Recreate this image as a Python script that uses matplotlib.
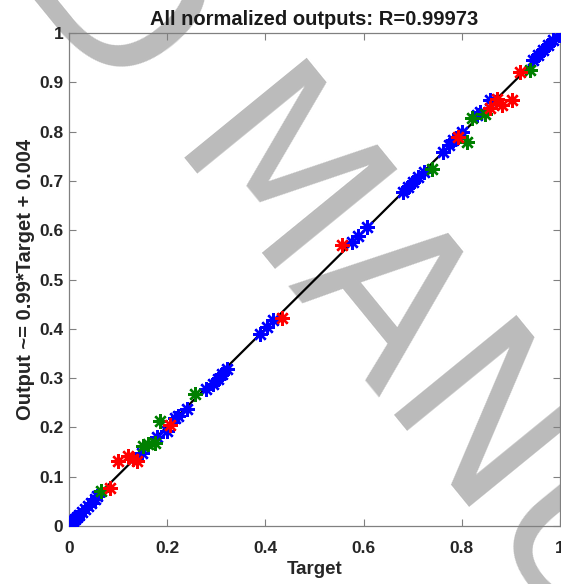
import matplotlib
matplotlib.use("Agg")
import matplotlib.pyplot as plt
import numpy as np

# ---- data ----
blue_t = [0.0, 0.004, 0.008, 0.012, 0.016, 0.02, 0.026, 0.032, 0.038, 0.045, 0.052, 0.058,
          0.148, 0.179, 0.199, 0.216, 0.223, 0.240, 0.280, 0.294, 0.303, 0.312, 0.322,
          0.389, 0.403, 0.416, 0.576, 0.589, 0.606,
          0.681, 0.691, 0.701, 0.711, 0.722, 0.762, 0.773, 0.783, 0.800, 0.830, 0.837, 0.857,
          0.946, 0.956, 0.966, 0.976, 0.986, 0.997]
blue_o = [0.002, 0.006, 0.010, 0.015, 0.019, 0.023, 0.029, 0.035, 0.041, 0.047, 0.054, 0.060,
          0.149, 0.180, 0.193, 0.220, 0.224, 0.237, 0.278, 0.288, 0.299, 0.309, 0.318,
          0.390, 0.403, 0.417, 0.576, 0.589, 0.606,
          0.677, 0.688, 0.698, 0.708, 0.718, 0.759, 0.772, 0.782, 0.799, 0.833, 0.840, 0.864,
          0.945, 0.955, 0.965, 0.976, 0.986, 0.996]
green_t = [0.065, 0.151, 0.161, 0.175, 0.185, 0.257, 0.740, 0.810, 0.820, 0.847, 0.939]
green_o = [0.070, 0.163, 0.166, 0.169, 0.213, 0.268, 0.725, 0.779, 0.827, 0.835, 0.925]
red_t = [0.083, 0.100, 0.121, 0.131, 0.138, 0.206, 0.433, 0.555, 0.793, 0.857, 0.871, 0.881, 0.902, 0.919]
red_o = [0.077, 0.132, 0.142, 0.136, 0.132, 0.205, 0.422, 0.569, 0.789, 0.847, 0.867, 0.854, 0.864, 0.921]
fit_slope = 0.99
fit_offset = 0.004
R_value = "0.99973"
xticks = [0, 0.2, 0.4, 0.6, 0.8, 1]
yticks = [0, 0.1, 0.2, 0.3, 0.4, 0.5, 0.6, 0.7, 0.8, 0.9, 1]

plt.rcParams['font.family'] = ['Liberation Sans', 'DejaVu Sans']

fig = plt.figure(figsize=(5.61, 5.84), dpi=100, facecolor='white')
ax = fig.add_axes([69/561, 1-526/584, 491/561, 493/584])
ax.set_facecolor('none')

# watermark behind axes
wm_kw = dict(color='#BBBBBB', fontsize=155, family='DejaVu Sans', rotation=-50.8,
             rotation_mode='anchor', va='baseline', zorder=-1)
fig.text(162/561, 1-157/584, "MANUSCRIPT", ha='left', **wm_kw)
fig.text(162/561, 1-157/584, "ACCEPTED ", ha='right', **wm_kw)

tline = np.array([0.0, 1.0])
ax.plot(tline, fit_slope*tline + fit_offset, color='black', lw=1.6, zorder=2)

mk = dict(marker=(8, 2, 0), markersize=10.5, markeredgewidth=1.7, linestyle='none', zorder=3)
ax.plot(blue_t, blue_o, color='#0000FF', **mk)
ax.plot(green_t, green_o, color='#008000', **mk)
ax.plot(red_t, red_o, color='#FF0000', **mk)

ax.set_xlim(0, 1)
ax.set_ylim(0, 1)
ax.set_xticks(xticks)
ax.set_xticklabels(['0', '0.2', '0.4', '0.6', '0.8', '1'])
ax.set_yticks(yticks)
ax.set_yticklabels(['0', '0.1', '0.2', '0.3', '0.4', '0.5', '0.6', '0.7', '0.8', '0.9', '1'])
ax.tick_params(direction='in', length=5, width=0.8, colors='#808080', top=True, right=True,
               labelsize=12.5, labelcolor='#262626')
ax.tick_params(axis='x', pad=10.5)
ax.tick_params(axis='y', pad=4)
for lab in ax.get_xticklabels() + ax.get_yticklabels():
    lab.set_fontweight('bold')
for s in ax.spines.values():
    s.set_color('#808080')
    s.set_linewidth(0.9)

ax.set_title(f"All normalized outputs: R={R_value}", fontsize=14.5, fontweight='bold',
             color='#1a1a1a', pad=6)
ax.set_xlabel("Target", fontsize=13.5, fontweight='bold', color='#262626', labelpad=4)
ax.set_ylabel(f"Output ~= {fit_slope}*Target + {fit_offset}", fontsize=14.5, fontweight='bold',
              color='#262626', labelpad=3)

fig.savefig("out.png", dpi=100, facecolor='white')
